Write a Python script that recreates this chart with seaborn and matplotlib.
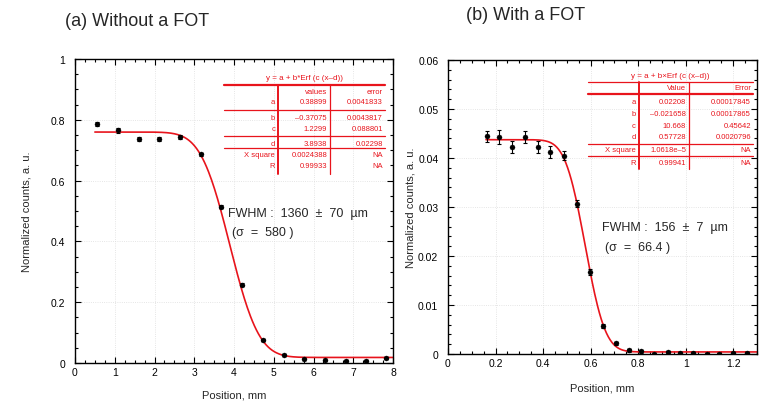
import math
import numpy as np
import pandas as pd
import seaborn as sns
import matplotlib.pyplot as plt
from matplotlib.lines import Line2D
from matplotlib.ticker import MultipleLocator, FuncFormatter

# ---- data ----
pos_a = [0.56, 1.08, 1.60, 2.11, 2.63, 3.16, 3.68, 4.21, 4.73, 5.25, 5.75, 6.29, 6.82, 7.31, 7.83]
cnt_a = [0.786, 0.766, 0.736, 0.736, 0.744, 0.686, 0.514, 0.258, 0.075, 0.027, 0.014, 0.009, 0.008, 0.008, 0.015]
err_a = [0.006, 0.008, 0.006, 0.006, 0.006, 0.005, 0.005, 0.004, 0.003, 0.002, 0.002, 0.002, 0.002, 0.002, 0.002]

pos_b = [0.164, 0.216, 0.270, 0.323, 0.377, 0.431, 0.487, 0.544, 0.598, 0.652, 0.706,
         0.760, 0.814, 0.867, 0.924, 0.978, 1.032, 1.088, 1.140, 1.199, 1.256, 1.310]
cnt_b = [0.0444, 0.0443, 0.0422, 0.0443, 0.0422, 0.0412, 0.0405, 0.0307, 0.0168, 0.0057, 0.0022,
         0.0008, 0.0006, 0.0001, 0.0004, 0.0002, 0.0002, 0.0001, 0.0001, 0.0002, 0.0002, 0.0002]
err_b = [0.0012, 0.0014, 0.0012, 0.0012, 0.0012, 0.0012, 0.0010, 0.0008, 0.0006, 0.0004, 0.0003,
         0.0003, 0.0003, 0.0002, 0.0002, 0.0002, 0.0002, 0.0002, 0.0002, 0.0002, 0.0002, 0.0002]

# fit parameters as printed in the tables
fit_a = dict(a=0.38899, b=-0.37075, c=1.2299, d=3.8938)
fit_b = dict(a=0.02208, b=-0.021658, c=10.668, d=0.57728)
range_a = (0.5, 8.0)
range_b = (0.16, 1.3)

table_a_title = "y = a + b*Erf (c (x\u2013d))"
table_a_head = ["", "values", "error"]
table_a_rows = [["a", "0.38899", "0.0041833"],
                ["b", "\u20130.37075", "0.0043817"],
                ["c", "1.2299", "0.088801"],
                ["d", "3.8938", "0.02298"],
                ["X square", "0.0024388", "NA"],
                ["R", "0.99933", "NA"]]

table_b_title = "y = a + b\u00d7Erf (c (x\u2013d))"
table_b_head = ["", "Value", "Error"]
table_b_rows = [["a", "0.02208", "0.00017845"],
                ["b", "\u20130.021658", "0.00017865"],
                ["c", "10.668", "0.45642"],
                ["d", "0.57728", "0.0020796"],
                ["X square", "1.0618e\u20135", "NA"],
                ["R", "0.99941", "NA"]]

# ---- figure ----
sns.set_style("ticks")
plt.rcParams['font.family'] = ['Liberation Sans', 'DejaVu Sans']

W, H = 760, 406
fig = plt.figure(figsize=(W / 100, H / 100), dpi=100)

def px_box(x0, y0, x1, y1):
    return [x0 / W, 1 - y1 / H, (x1 - x0) / W, (y1 - y0) / H]

ax_a = fig.add_axes(px_box(75, 60, 393, 364))
ax_b = fig.add_axes(px_box(448, 61, 757, 355))

RED = "#e8141c"

def fit_curve(p, lo, hi):
    xs = np.linspace(lo, hi, 300)
    ys = [p["a"] + p["b"] * math.erf(p["c"] * (x - p["d"])) for x in xs]
    return pd.DataFrame({"x": xs, "y": ys})

def draw_panel(ax, xs, ys, es, fit, rng):
    curve = fit_curve(fit, *rng)
    sns.lineplot(data=curve, x="x", y="y", ax=ax, color=RED, linewidth=1.2, sort=False)
    ax.errorbar(xs, ys, yerr=es, fmt="none", ecolor="black", elinewidth=0.8, capsize=1.5, capthick=0.8, zorder=3)
    sns.scatterplot(x=xs, y=ys, ax=ax, color="black", s=13, edgecolor="black", zorder=4)

draw_panel(ax_a, pos_a, cnt_a, err_a, fit_a, range_a)
draw_panel(ax_b, pos_b, cnt_b, err_b, fit_b, range_b)

fmt = FuncFormatter(lambda v, _: f"{v:g}")
for ax in (ax_a, ax_b):
    ax.tick_params(which="both", direction="in", top=True, right=True, width=0.8, colors="black")
    ax.tick_params(which="major", length=4, labelsize=7.5, pad=3)
    ax.tick_params(which="minor", length=2)
    ax.tick_params(axis="y", pad=7)
    ax.xaxis.set_major_formatter(fmt)
    ax.yaxis.set_major_formatter(fmt)
    for sp in ax.spines.values():
        sp.set_linewidth(1.0)
        sp.set_color("black")
    ax.grid(True, which="major", color="#dddddd", linestyle=":", linewidth=0.6)

ax_a.set_xlim(0, 8)
ax_a.set_ylim(0, 1)
ax_a.xaxis.set_major_locator(MultipleLocator(1))
ax_a.xaxis.set_minor_locator(MultipleLocator(0.25))
ax_a.yaxis.set_major_locator(MultipleLocator(0.2))
ax_a.yaxis.set_minor_locator(MultipleLocator(0.05))
ax_a.set_xlabel("Position, mm", fontsize=8, labelpad=9)
ax_a.set_ylabel("Normalized counts, a. u.", fontsize=8, labelpad=14)

ax_b.set_xlim(0, 1.3)
ax_b.set_ylim(0, 0.06)
ax_b.xaxis.set_major_locator(MultipleLocator(0.2))
ax_b.xaxis.set_minor_locator(MultipleLocator(0.05))
ax_b.yaxis.set_major_locator(MultipleLocator(0.01))
ax_b.yaxis.set_minor_locator(MultipleLocator(0.002))
ax_b.set_xlabel("Position, mm", fontsize=8, labelpad=10)
ax_b.set_ylabel("Normalized counts, a. u.", fontsize=8, labelpad=2)

# titles
fig.text(65 / W, 1 - 22 / H, "(a) Without a FOT", fontsize=13, ha="left", va="center")
fig.text(466 / W, 1 - 15 / H, "(b) With a FOT", fontsize=13, ha="left", va="center")

# annotations
fig.text(228 / W, 1 - 214 / H, "FWHM :  1360  \u00b1  70  \u00b5m", fontsize=9, ha="left", va="center")
fig.text(232 / W, 1 - 233 / H, "(\u03c3  =  580 )", fontsize=9, ha="left", va="center")
fig.text(602 / W, 1 - 228 / H, "FWHM :  156  \u00b1  7  \u00b5m", fontsize=9, ha="left", va="center")
fig.text(605 / W, 1 - 248 / H, "(\u03c3  =  66.4 )", fontsize=9, ha="left", va="center")

# fit tables
def hline(x0, x1, y, lw):
    fig.add_artist(Line2D([x0 / W, x1 / W], [1 - y / H, 1 - y / H], color=RED, linewidth=lw))

def vline(x, y0, y1, lw):
    fig.add_artist(Line2D([x / W, x / W], [1 - y0 / H, 1 - y1 / H], color=RED, linewidth=lw))

def cell(x, y, s, ha="right", size=5.5):
    fig.text(x / W, 1 - y / H, s, fontsize=size, color=RED, ha=ha, va="center")

# table (a)
xl, xr, c1, c2 = 224, 385, 278, 330
cell((xl + xr) / 2, 79, table_a_title, ha="center", size=5.8)
hline(xl, xr, 86, 1.6)
row_y = [103, 118, 130, 144, 156, 167]
cell(c2 - 3, 93, table_a_head[1]); cell(xr - 2, 93, table_a_head[2])
for y, (lab, val, err) in zip(row_y, table_a_rows):
    cell(c1 - 3, y, lab); cell(c2 - 3, y, val); cell(xr - 2, y, err)
for y in (111, 137, 149):
    hline(xl, xr, y, 0.9)
vline(c1, 86, 175, 1.4)
vline(c2, 86, 175, 0.9)

# table (b)
xl, xr, c1, c2 = 588, 753, 639, 689
cell((xl + xr) / 2, 77, table_b_title, ha="center", size=5.8)
hline(xl, xr, 83, 0.9)
hline(xl, xr, 95, 1.6)
row_y = [103, 115, 127, 138, 151, 164]
cell(c2 - 3, 89, table_b_head[1]); cell(xr - 2, 89, table_b_head[2])
for y, (lab, val, err) in zip(row_y, table_b_rows):
    cell(c1 - 3, y, lab); cell(c2 - 3, y, val); cell(xr - 2, y, err)
for y in (145, 157):
    hline(xl, xr, y, 0.9)
vline(c1, 83, 170, 1.4)
vline(c2, 83, 170, 0.9)

fig.savefig("out.png", dpi=100)
